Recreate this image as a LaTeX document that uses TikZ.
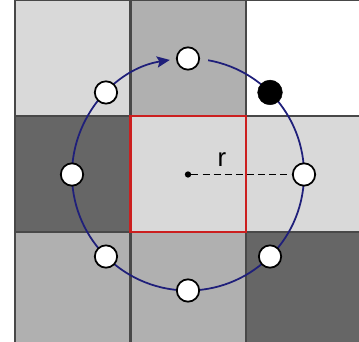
\documentclass[tikz,border=0pt]{standalone}
\usepackage{fontspec}
\setmainfont{Liberation Sans}
\usetikzlibrary{arrows.meta}

\definecolor{lightcell}{HTML}{D9D9D9}
\definecolor{midcell}{HTML}{B0B0B0}
\definecolor{darkcell}{HTML}{666666}
\definecolor{gridline}{HTML}{484848}
\definecolor{targetred}{HTML}{CC1F1F}
\definecolor{orbitblue}{HTML}{1F1F7A}

\begin{document}
\begin{tikzpicture}[
            x=0.03cm, y=0.03cm,
            % styles
            cell/.style={draw=gridline, line width=1.9pt},
            target/.style={draw=targetred, line width=2pt},
            sample/.style={circle, draw=black, fill=white, line width=1.5pt, minimum size=0.67cm, inner sep=0pt},
            hit/.style={circle, draw=black, fill=black, minimum size=0.74cm, inner sep=0pt},
            centre/.style={circle, fill=black, minimum size=0.19cm, inner sep=0pt},
            orbit/.style={draw=orbitblue, line width=1.5pt},
            radiusline/.style={dash pattern=on 6pt off 3.5pt, line width=1.4pt}
        ]

        \useasboundingbox (0,0) rectangle (359,342);
        \clip (0,0) rectangle (359,342);

        % neighbourhood cells (column/row/shade)
        \foreach \i/\j/\shade in {0/0/lightcell, 1/0/midcell, 2/0/white,
                                  0/1/darkcell, 1/1/lightcell, 2/1/lightcell,
                                  0/2/midcell, 1/2/midcell, 2/2/darkcell}
            \filldraw[cell, fill=\shade] (15+\i*115.5, 342-\j*116) rectangle ++(115.5,-116);

        % centre cell
        \draw[target] (130.5,226) rectangle (246,110);

        % sampling circle
        \coordinate (c) at (188,167.5);
        \draw[orbit, -{Stealth[length=11pt, width=9.5pt, inset=2pt]}]
            ([shift={(80:116)}]c) arc[start angle=80, end angle=-261, radius=116];

        % sample points
        \foreach \a/\n in {0/e, 90/n, 135/nw, 180/w, 225/sw, 270/s, 315/se}
            \node[sample] (p-\n) at ([shift={(\a:116)}]c) {};
        \node[hit] (p-ne) at ([shift={(45:116)}]c) {};

        % radius
        \node[centre] (ctr) at (c) {};
        \draw[radiusline] (ctr) -- (p-e);
        \node (rlabel) at (222,182) {\fontsize{22}{24}\selectfont r};

        \end{tikzpicture}
\end{document}
